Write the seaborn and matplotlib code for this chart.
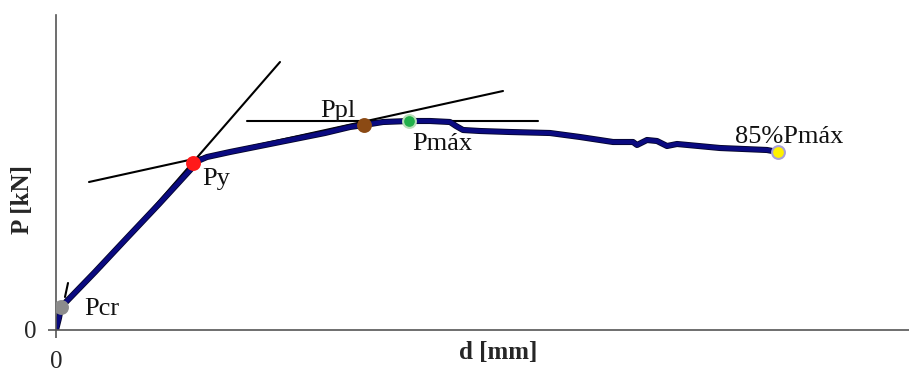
import matplotlib
matplotlib.use("Agg")
import matplotlib.pyplot as plt
import matplotlib.patheffects as pe
import seaborn as sns
import pandas as pd

# ---- data (arbitrary chart units: d, P) ----
d_curve = [0, 3, 5, 9, 39, 69, 103, 136, 137, 151, 174, 194, 219, 244, 269, 294, 308,
           327, 353, 374, 394, 400, 407, 424, 454, 494, 524, 557, 577, 581, 591, 601, 611,
           621, 664, 711, 722]
P_curve = [0, 12, 23, 27, 58, 90, 126, 162, 167, 173, 178, 182, 187, 192, 197, 203, 205,
           208, 209, 209, 208, 204, 200, 199, 198, 197, 193, 188, 188, 185, 190, 189, 184,
           186, 182, 180, 178]

point_names = ["Pcr", "Py", "Ppl", "Pmáx", "85%Pmáx"]
point_d = [5, 137, 308, 353, 722]
point_P = [23, 167, 205, 209, 178]
point_colors = ["#8c8c8c", "#ff1a1a", "#8b4a14", "#22b04b", "#fff200"]
point_edges = ["#8c8c8c", "#ff1a1a", "#8b4a14", "#b8e0b8", "#a8a0d8"]

label_d = [28, 146, 264, 356, 679]
label_P = [21, 145, 213, 180, 187]

line1_d = [45, 224]
line1_P = [62, 268]
line2_d = [33, 447]
line2_P = [148, 239]
line3_d = [191, 482]
line3_P = [209, 209]
stub_d = [9, 12]
stub_P = [33, 47]

x_ticks = [0]
y_ticks = [0]

# ---- plot ----
sns.set_theme(style="white")
plt.rcParams['font.family'] = ['Liberation Serif', 'DejaVu Serif']

fig = plt.figure(figsize=(9.09, 3.73), dpi=100)
ax = fig.add_axes([56 / 909, 43 / 373, 853 / 909, 315 / 373])

df_lines = pd.DataFrame({
    "d": line1_d + line2_d + line3_d + stub_d,
    "P": line1_P + line2_P + line3_P + stub_P,
    "g": ["a"] * 2 + ["b"] * 2 + ["c"] * 2 + ["s"] * 2,
})
for g, sub in df_lines.groupby("g"):
    sns.lineplot(data=sub, x="d", y="P", color="black", linewidth=1.5,
                 sort=False, ax=ax, legend=False)

df_curve = pd.DataFrame({"d": d_curve, "P": P_curve})
sns.lineplot(data=df_curve, x="d", y="P", color="#0a0a80", linewidth=3.2,
             sort=False, ax=ax, legend=False)
ax.lines[-1].set_path_effects([pe.Stroke(linewidth=4.4, foreground="#05052a"), pe.Normal()])

for i in range(len(point_names)):
    sns.scatterplot(x=[point_d[i]], y=[point_P[i]], color=point_colors[i],
                    edgecolor=point_edges[i], linewidth=1.5, s=85, ax=ax, zorder=5,
                    legend=False)
    ax.text(label_d[i], label_P[i], point_names[i], fontsize=19, color="#111111",
            ha="left", va="center" if i == 0 else "baseline")

ax.set_xlim(0, 853)
ax.set_ylim(0, 315)
ax.set_xticks(x_ticks)
ax.set_yticks(y_ticks)
ax.set_xticklabels([str(v) for v in x_ticks], fontsize=18)
ax.set_yticklabels([str(v) for v in y_ticks], fontsize=18)
ax.tick_params(axis="both", which="both", length=6, width=1.2, color="#555555",
               direction="out", bottom=True, left=True)
ax.tick_params(axis="x", pad=9)
ax.tick_params(axis="y", pad=8)

for s in ["top", "right"]:
    ax.spines[s].set_visible(False)
for s in ["left", "bottom"]:
    ax.spines[s].set_color("#555555")
    ax.spines[s].set_linewidth(1.2)

ax.set_xlabel("d [mm]", fontsize=18, fontweight="bold")
ax.set_ylabel("P [kN]", fontsize=18, fontweight="bold")
ax.xaxis.set_label_coords((498 - 56) / 853, (330 - 352) / 315)
ax.yaxis.set_label_coords((23 - 56) / 853, (330 - 199) / 315)
ax.xaxis.label.set_va("center")
ax.yaxis.label.set_va("center")

fig.savefig("out.png", dpi=100)
